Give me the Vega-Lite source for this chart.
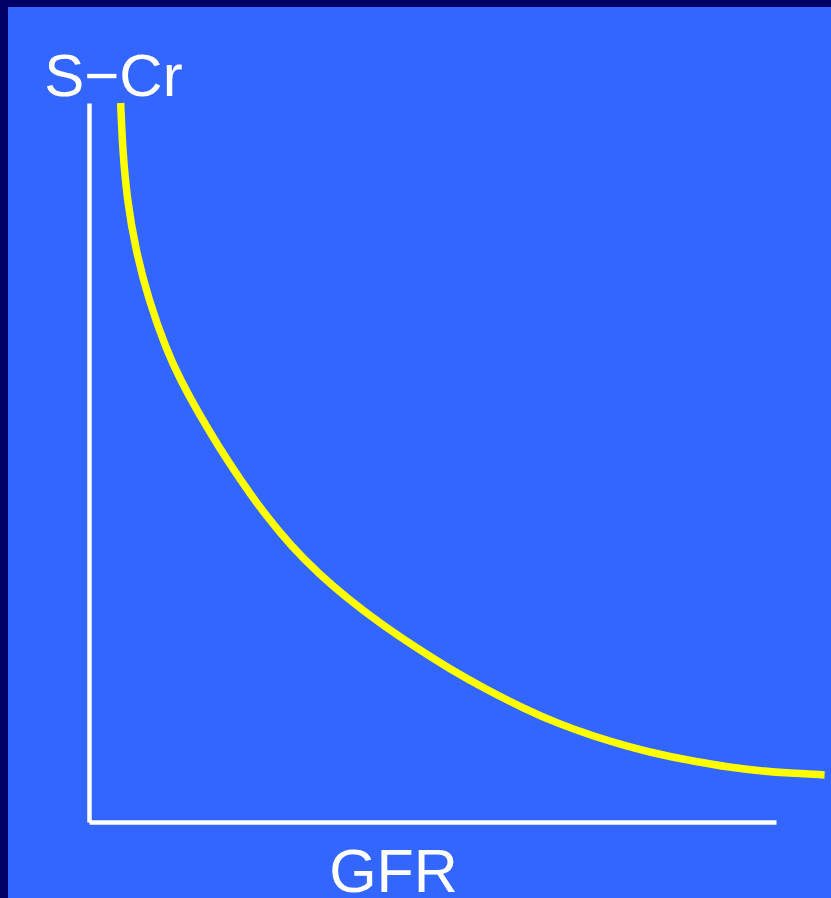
{
  "$schema": "https://vega.github.io/schema/vega-lite/v6.json",
  "width": 823,
  "height": 891,
  "autosize": {"type": "none"},
  "padding": {"left": 8, "top": 7, "right": 0, "bottom": 0},
  "background": "#000066",
  "view": {"fill": "#3366FF", "stroke": null},
  "config": {
    "axis": {"grid": false, "ticks": false, "labels": false, "domainColor": "white", "domainWidth": 4.5, "domainCap": "butt", "titleColor": "white", "titleFont": "Liberation Sans", "titleFontWeight": "normal", "titleFontSize": 61}
  },
  "data": {
    "values": [
      {"GFR": 4.61, "SCr": 10.0},
      {"GFR": 4.89, "SCr": 9.35},
      {"GFR": 5.55, "SCr": 8.65},
      {"GFR": 6.78, "SCr": 7.96},
      {"GFR": 8.68, "SCr": 7.26},
      {"GFR": 11.30, "SCr": 6.56},
      {"GFR": 13.30, "SCr": 6.15},
      {"GFR": 15.97, "SCr": 5.68},
      {"GFR": 18.88, "SCr": 5.22},
      {"GFR": 22.02, "SCr": 4.76},
      {"GFR": 25.52, "SCr": 4.29},
      {"GFR": 29.51, "SCr": 3.83},
      {"GFR": 33.48, "SCr": 3.45},
      {"GFR": 37.61, "SCr": 3.11},
      {"GFR": 42.55, "SCr": 2.75},
      {"GFR": 47.54, "SCr": 2.43},
      {"GFR": 52.66, "SCr": 2.12},
      {"GFR": 57.90, "SCr": 1.84},
      {"GFR": 63.28, "SCr": 1.58},
      {"GFR": 68.23, "SCr": 1.37},
      {"GFR": 73.54, "SCr": 1.19},
      {"GFR": 78.49, "SCr": 1.05},
      {"GFR": 83.44, "SCr": 0.93},
      {"GFR": 88.31, "SCr": 0.84},
      {"GFR": 93.29, "SCr": 0.76},
      {"GFR": 97.76, "SCr": 0.71},
      {"GFR": 101.95, "SCr": 0.68},
      {"GFR": 107.07, "SCr": 0.655}
    ]
  },
  "mark": {"type": "line", "color": "#FFFF00", "strokeWidth": 7.5, "strokeCap": "butt", "interpolate": "basis", "clip": false},
  "encoding": {
    "x": {
      "field": "GFR", "type": "quantitative",
      "scale": {"domain": [0, 100], "range": [81, 768], "nice": false, "zero": false},
      "axis": {"title": "GFR", "orient": "bottom", "offset": -76, "titleX": 385, "titleY": 69, "titleAlign": "center", "titleBaseline": "alphabetic", "titleAnchor": null}
    },
    "y": {
      "field": "SCr", "type": "quantitative",
      "scale": {"domain": [0, 10], "range": [815, 96], "nice": false, "zero": false},
      "axis": {"title": "S−Cr", "orient": "left", "offset": -81, "titleAngle": 0, "titleX": 24, "titleY": 88, "titleAlign": "center", "titleBaseline": "alphabetic", "titleFontSize": 60}
    }
  }
}
